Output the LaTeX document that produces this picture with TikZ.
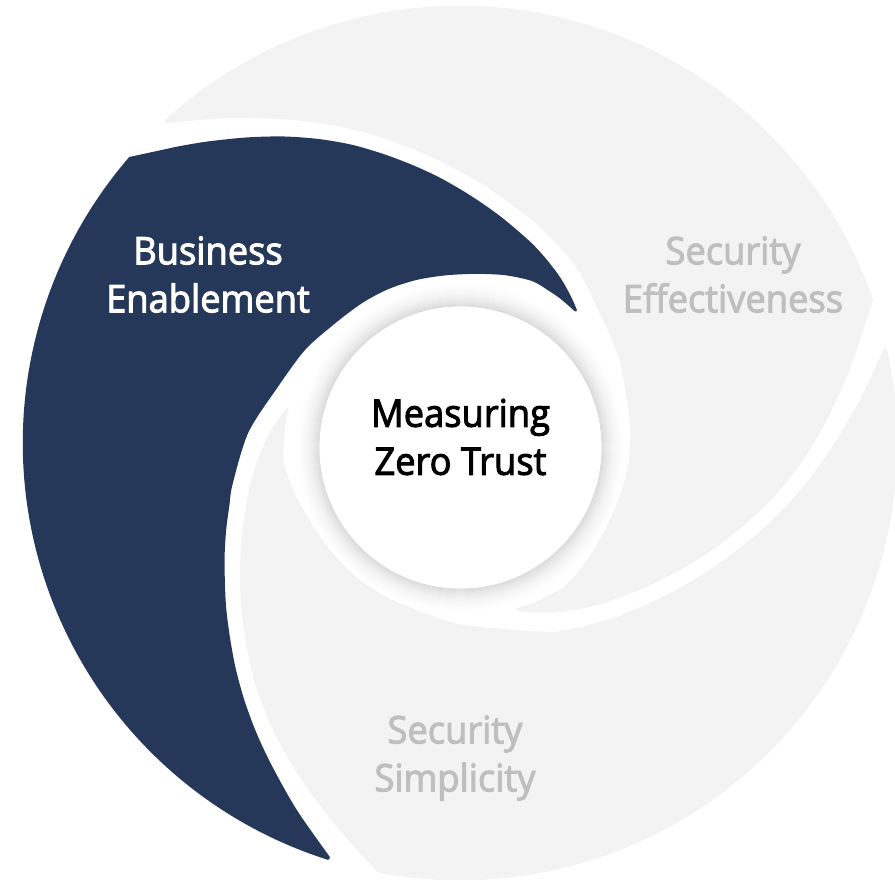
\documentclass[tikz,border=0pt]{standalone}
\usepackage{fontspec}
\newfontfamily\lblfont{Open Sans}[FakeBold=2.6,FakeStretch=0.955]
\definecolor{navy}{HTML}{263859}
\definecolor{lightblade}{HTML}{F3F3F3}
\definecolor{lbltext}{HTML}{BFBFBF}
\definecolor{shadowgray}{HTML}{DCDCDC}
\newcommand\bladeshape{plot[smooth] coordinates {(48.9:176) (52:181) (56:187.5) (60:194) (65:202) (70:210.5) (75:219) (80:229) (85:240) (90:252.5) (95:266.5) (100:281.5) (105:298) (110:316) (115:334) (120:352.5) (125:371.5) (130:392) (133.4:407) (136:419) (139.2:436)} arc[start angle=139.2, end angle=252.4, radius=436] -- plot[smooth] coordinates {(252.4:434.7) (246:403) (240:376) (235:356) (230:337) (225:319) (220:302) (215:287) (210:273) (205:261) (200:250) (195:240) (190:232) (177:213) (163:192) (149:182) (137:174.5) (125:172) (115:171) (105:170) (95:169.5) (85:171) (75:175) (66:178.5) (60:177.5) (55:177) (48.9:176)} -- cycle}
\tikzset{
  lbl/.style={align=center, font=\lblfont\fontsize{38}{48}\selectfont, inner sep=0pt},
  bladefill/.style={line width=2.5pt, line join=round}
}
\begin{document}
\begin{tikzpicture}[x=1pt,y=1pt]
\useasboundingbox (-460,-436) rectangle (435,443);
\fill[white] (-460,-436) rectangle (435,443);
% soft shadow round the centre
\foreach \i in {24,23,...,0}{
  \pgfmathsetmacro\pc{100*(1-\i/25)*(1-\i/25)}
  \draw[line width=1.3pt, shadowgray!\pc!white] (0.5,-4.5) circle (141.5+\i);
}
% light blades
\begin{scope}[rotate=-120]
  \filldraw[bladefill, fill=lightblade, draw=lightblade] \bladeshape;
\end{scope}
\begin{scope}[rotate=120]
  \filldraw[bladefill, fill=lightblade, draw=lightblade] \bladeshape;
\end{scope}
% dark blade
\filldraw[bladefill, fill=navy, draw=navy] \bladeshape;
% centre disc
\fill[white] (0.5,-4.5) circle (141);
% labels
\node[lbl, text=white] (be) at (-252,168.5) {Business\\Enablement};
\node[lbl, text=lbltext] (se) at (273,168.5) {Security\\Effectiveness};
\node[lbl, text=black] (mzt) at (0.5,6) {Measuring\\Zero Trust};
\node[lbl, text=lbltext] (ss) at (-5,-315) {Security\\Simplicity};
\end{tikzpicture}
\end{document}
